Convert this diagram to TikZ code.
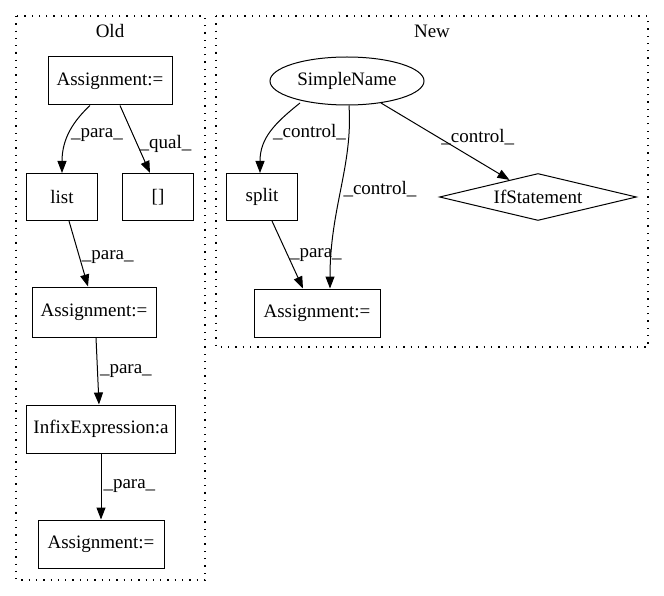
\documentclass[tikz,border=0pt]{standalone}
\usepackage{fontspec}
\setmainfont{Liberation Serif}
\usetikzlibrary{arrows.meta,shapes.geometric}
\begin{document}
\begin{tikzpicture}[x=1pt,y=-1pt,
  every node/.style={font=\fontsize{19}{22}\selectfont},
  box/.style={draw,line width=1pt,rectangle,inner sep=0pt},
  cluster/.style={draw,line width=1.2pt,dash pattern=on 1.3pt off 6pt},
  edge/.style={draw,line width=1pt,-{Triangle[length=12pt,width=9pt]}},
  elabel/.style={anchor=west,inner sep=2pt}
]
\useasboundingbox (0,0) rectangle (664,596);
% clusters
\draw[cluster] (16,16) rectangle (205,580);
\draw[cluster] (216,16) rectangle (648,347);
\node (oldlbl) at (110,31) {Old};
\node (newlbl) at (432,31) {New};
% Old nodes
\node[box,minimum width=124pt,minimum height=48pt] (a1) at (110,81) {Assignment:=};
\node[box,minimum width=71pt,minimum height=47pt] (list) at (62,197) {list};
\node[box,minimum width=71pt,minimum height=47pt] (qual) at (158,197) {[]};
\node[box,minimum width=124pt,minimum height=50pt] (a2) at (94,312) {Assignment:=};
\node[box,minimum width=149pt,minimum height=48pt] (infix) at (101,429) {InfixExpression:a};
\node[box,minimum width=126pt,minimum height=48pt] (a3) at (101,544) {Assignment:=};
% New nodes
\node[draw,line width=1pt,ellipse,minimum width=154pt,minimum height=48pt,inner sep=0pt] (sn) at (347,81) {SimpleName};
\node[box,minimum width=71pt,minimum height=47pt] (split) at (262,197) {split};
\node[draw,line width=1pt,diamond,aspect=4.2,minimum width=197pt,minimum height=47pt,inner sep=0pt] (ifs) at (538,197) {IfStatement};
\node[box,minimum width=126pt,minimum height=48pt] (a4) at (317,313) {Assignment:=};
% Old edges
\draw[edge] ([xshift=-20pt]a1.south) .. controls +(-16,15) and +(0,-35) .. (list.north)
  node[elabel,pos=0.55] (l1) {\_para\_};
\draw[edge] ([xshift=10pt]a1.south) -- ([xshift=-8pt]qual.north)
  node[elabel,pos=0.57] (l2) {\_qual\_};
\draw[edge] ([xshift=7pt]list.south) -- ([xshift=-6pt]a2.north)
  node[elabel,pos=0.55] (l3) {\_para\_};
\draw[edge] ([xshift=2pt]a2.south) -- ([xshift=-2pt]infix.north)
  node[elabel,pos=0.5] (l4) {\_para\_};
\draw[edge] (infix.south) -- (a3.north)
  node[elabel,pos=0.5] (l5) {\_para\_};
% New edges
\draw[edge] ([shift={(-47,22)}]sn.center) .. controls +(-25,20) and +(0,-35) .. ([xshift=-2pt]split.north)
  node[elabel,pos=0.5] (l6) {\_control\_};
\draw[edge] ([xshift=2pt]sn.south) .. controls +(4,60) and +(0,-80) .. ([xshift=13pt]a4.north)
  node[elabel,pos=0.5] (l7) {\_control\_};
\draw[edge] ([shift={(34,22)}]sn.center) -- (ifs)
  node[elabel,pos=0.45] (l8) {\_control\_};
\draw[edge] ([xshift=10pt]split.south) -- ([xshift=-14pt]a4.north)
  node[elabel,pos=0.5] (l9) {\_para\_};
\end{tikzpicture}
\end{document}
